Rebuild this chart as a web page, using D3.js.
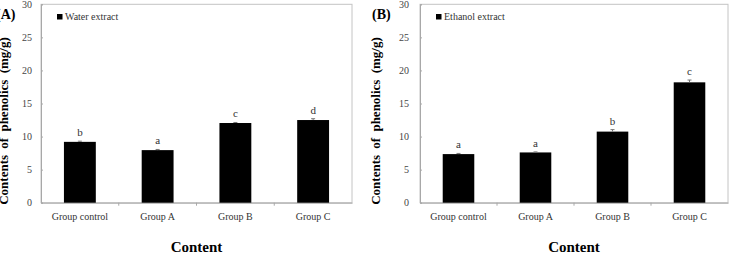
<!DOCTYPE html>
<html>
<head>
<meta charset="utf-8">
<script src="https://cdn.jsdelivr.net/npm/d3@7"></script>
<style>
body{margin:0;background:#fff}
svg{display:block}
text{font-family:"Liberation Serif","Times New Roman",serif}
</style>
</head>
<body>
<div id="chart"></div>
<script>
// data
const categories=["Group control","Group A","Group B","Group C"]
const yTicks=[0,5,10,15,20,25,30]
const waterValues=[9.2,7.95,12.05,12.5]
const waterErrors=[0.1,0.1,0.08,0.2]
const waterLetters=["b","a","c","d"]
const ethanolValues=[7.35,7.6,10.75,18.2]
const ethanolErrors=[0.1,0.08,0.3,0.35]
const ethanolLetters=["a","a","b","c"]

const W=734,H=255
const svg=d3.select("#chart").append("svg").attr("width",W).attr("height",H)

// one panel of the figure
function drawPanel(p)
{
	let g=svg.append("g")
	let x=d3.scaleBand().domain(categories).range([p.left,p.right]).paddingInner(0.59).paddingOuter(0.295)
	let y=d3.scaleLinear().domain([0,30]).range([202.7,4.3])

	// frame
	g.append("rect").attr("x",p.left).attr("y",y(30)).attr("width",p.right-p.left).attr("height",y(0)-y(30))
		.attr("fill","none").attr("stroke","#c4c4c4").attr("stroke-width",1)

	let ya=g.append("g").attr("transform",`translate(${p.left},0)`)
		.call(d3.axisLeft(y).tickValues(yTicks).tickSize(-2).tickPadding(p.tickPad))
	ya.select(".domain").attr("stroke","#a8a8a8")
	ya.selectAll(".tick line").attr("stroke","#a8a8a8")
	ya.selectAll("text").attr("fill","#444").style("font-size","10px").style("font-family","Liberation Serif")

	let xa=g.append("g").attr("transform",`translate(0,${y(0)})`)
		.call(d3.axisBottom(x).tickSize(0).tickPadding(10))
	xa.select(".domain").attr("stroke","#a8a8a8")
	xa.selectAll("text").attr("fill","#333").style("font-size","10px").style("font-family","Liberation Serif")
	// small ticks between categories
	let step=x.step()
	g.selectAll(".sep").data(d3.range(1,categories.length)).join("line")
		.attr("x1",d=>p.left+d*step).attr("x2",d=>p.left+d*step)
		.attr("y1",y(0)).attr("y2",y(0)+3).attr("stroke","#a8a8a8")

	g.selectAll(".bar").data(p.values).join("rect")
		.attr("x",(d,i)=>x(categories[i])).attr("width",x.bandwidth())
		.attr("y",d=>y(d)).attr("height",d=>y(0)-y(d)).attr("fill","#000")

	// error bars
	let eb=g.selectAll(".err").data(p.values).join("g")
	eb.append("line").attr("x1",(d,i)=>x(categories[i])+x.bandwidth()/2).attr("x2",(d,i)=>x(categories[i])+x.bandwidth()/2)
		.attr("y1",d=>y(d)).attr("y2",(d,i)=>y(d+p.errors[i])).attr("stroke","#777")
	eb.append("line").attr("x1",(d,i)=>x(categories[i])+x.bandwidth()/2-2).attr("x2",(d,i)=>x(categories[i])+x.bandwidth()/2+2)
		.attr("y1",(d,i)=>y(d+p.errors[i])).attr("y2",(d,i)=>y(d+p.errors[i])).attr("stroke","#777")

	g.selectAll(".lett").data(p.values).join("text")
		.attr("x",(d,i)=>x(categories[i])+x.bandwidth()/2)
		.attr("y",(d,i)=>y(d+p.errors[i])-5)
		.attr("text-anchor","middle").attr("fill","#333").style("font-size","11px")
		.text((d,i)=>p.letters[i])

	// legend
	g.append("rect").attr("x",p.left+16).attr("y",14).attr("width",5.5).attr("height",5.5).attr("fill","#000")
	g.append("text").attr("x",p.left+24).attr("y",19.5).attr("fill","#333").style("font-size","10px").text(p.legend)

	// panel label
	g.append("text").attr("x",p.labelX).attr("y",19).style("font-size","14px").style("font-weight","bold").text(p.label)

	// axis titles
	g.append("text").attr("x",(p.left+p.right)/2).attr("y",252).attr("text-anchor","middle")
		.style("font-size","15px").style("font-weight","bold").text("Content")
	g.append("text").attr("transform",`translate(${p.yTitleX},121) rotate(-90)`).attr("text-anchor","middle")
		.style("font-size","13px").style("font-weight","bold").style("word-spacing","3px")
		.text("Contents of phenolics (mg/g)")
}

drawPanel({left:41,right:352,tickPad:9,values:waterValues,errors:waterErrors,letters:waterLetters,
	legend:"Water extract",label:"(A)",labelX:-4,yTitleX:8})
drawPanel({left:420,right:728,tickPad:11,values:ethanolValues,errors:ethanolErrors,letters:ethanolLetters,
	legend:"Ethanol extract",label:"(B)",labelX:372,yTitleX:380})
</script>
</body>
</html>
